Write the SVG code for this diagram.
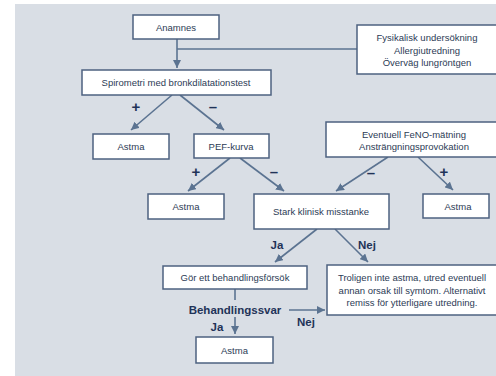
<svg xmlns="http://www.w3.org/2000/svg" width="496" height="376" viewBox="0 0 496 376">
<style>
.bx{fill:#ffffff;stroke:#4d6280;stroke-width:1.5}
.t{font-family:"Liberation Sans",Arial,sans-serif;font-size:9.5px;fill:#2c3b55;text-anchor:middle}
.c{fill:none;stroke:#5b7391;stroke-width:1.6}
.l{font-family:"Liberation Sans",Arial,sans-serif;font-weight:bold;fill:#1f3358;text-anchor:middle}
</style>
<defs>
<marker id="ah" viewBox="0 0 10 10" refX="10" refY="5" markerWidth="8" markerHeight="8" markerUnits="userSpaceOnUse" orient="auto">
<path d="M0,0 L10,5 L0,10 Z" fill="#5b7391"/>
</marker>
</defs>
<rect x="15" y="4" width="481" height="372" fill="#d9dee5"/>
<g id="connectors">
<line class="c" x1="177" y1="39" x2="177" y2="68" marker-end="url(#ah)"/>
<line class="c" x1="177" y1="49" x2="357" y2="49"/>
<line class="c" x1="172" y1="95" x2="131" y2="130" marker-end="url(#ah)"/>
<line class="c" x1="180" y1="95" x2="224" y2="130" marker-end="url(#ah)"/>
<line class="c" x1="230" y1="158" x2="188" y2="191" marker-end="url(#ah)"/>
<line class="c" x1="240" y1="158" x2="284" y2="191" marker-end="url(#ah)"/>
<line class="c" x1="388" y1="157" x2="336" y2="191" marker-end="url(#ah)"/>
<line class="c" x1="418" y1="157" x2="453" y2="190" marker-end="url(#ah)"/>
<line class="c" x1="317" y1="229" x2="275" y2="262" marker-end="url(#ah)"/>
<line class="c" x1="335" y1="229" x2="368" y2="262" marker-end="url(#ah)"/>
<line class="c" x1="235" y1="289" x2="235" y2="300"/>
<line class="c" x1="289" y1="310" x2="325" y2="310" marker-end="url(#ah)"/>
<line class="c" x1="235" y1="317" x2="235" y2="334" marker-end="url(#ah)"/>
<text class="l" x="136" y="112" font-size="15">+</text>
<text class="l" x="213" y="112" font-size="15">–</text>
<text class="l" x="196" y="177" font-size="15">+</text>
<text class="l" x="274" y="177" font-size="15">–</text>
<text class="l" x="371" y="178" font-size="15">–</text>
<text class="l" x="444" y="177" font-size="15">+</text>
<text class="l" x="277" y="249" font-size="11.5">Ja</text>
<text class="l" x="367" y="249" font-size="11.5">Nej</text>
<text class="l" x="235" y="314" font-size="11.5">Behandlingssvar</text>
<text class="l" x="306" y="326" font-size="11.5">Nej</text>
<text class="l" x="217" y="331" font-size="11.5">Ja</text>
</g>
<g id="anamnes"><rect class="bx" x="133" y="15" width="86" height="24"/><text class="t" x="176" y="30.5">Anamnes</text></g>
<g id="fysikalisk"><rect class="bx" x="357" y="25" width="142" height="49"/>
<text class="t" x="427" y="41">Fysikalisk undersökning</text>
<text class="t" x="427" y="53.5">Allergiutredning</text>
<text class="t" x="427" y="66">Överväg lungröntgen</text></g>
<g id="spirometri"><rect class="bx" x="82" y="70" width="189" height="25"/><text class="t" x="176" y="86">Spirometri med bronkdilatationstest</text></g>
<g id="astma1"><rect class="bx" x="93" y="134" width="76" height="25"/><text class="t" x="131" y="150">Astma</text></g>
<g id="pef"><rect class="bx" x="194" y="134" width="75" height="24"/><text class="t" x="231" y="149.5">PEF-kurva</text></g>
<g id="feno"><rect class="bx" x="326" y="122" width="174" height="35"/>
<text class="t" x="414" y="138">Eventuell FeNO-mätning</text>
<text class="t" x="414" y="150">Ansträngningsprovokation</text></g>
<g id="astma2"><rect class="bx" x="148" y="194" width="76" height="25"/><text class="t" x="186" y="210">Astma</text></g>
<g id="stark"><rect class="bx" x="254" y="194" width="135" height="35"/><text class="t" x="321" y="215">Stark klinisk misstanke</text></g>
<g id="astma3"><rect class="bx" x="423" y="194" width="66" height="24"/><text class="t" x="458" y="209.5">Astma</text></g>
<g id="gor"><rect class="bx" x="163" y="266" width="144" height="23"/><text class="t" x="235" y="281">Gör ett behandlingsförsök</text></g>
<g id="troligen"><rect class="bx" x="327" y="265" width="172" height="50"/>
<text class="t" x="412" y="281">Troligen inte astma, utred eventuell</text>
<text class="t" x="412" y="293.5">annan orsak till symtom. Alternativt</text>
<text class="t" x="412" y="306">remiss för ytterligare utredning.</text></g>
<g id="astma4"><rect class="bx" x="196" y="337" width="77" height="26"/><text class="t" x="234.5" y="353.5">Astma</text></g>
</svg>
